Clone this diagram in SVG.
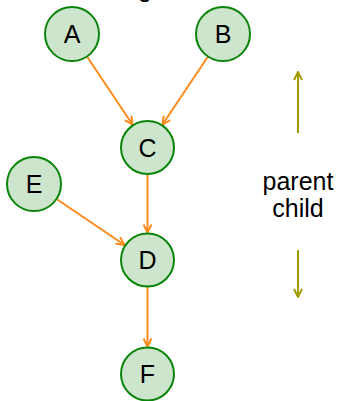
<svg xmlns="http://www.w3.org/2000/svg" width="340" height="401" viewBox="0 0 340 401">
<defs>
<style>
.node circle{fill:#cce5cc;stroke:#0a850a;stroke-width:2}
.node text{font-family:"Liberation Sans",Arial,sans-serif;font-size:25px;fill:#000;text-anchor:middle;dominant-baseline:central}
.edge{stroke:#ff8a1c;stroke-width:2;fill:none;marker-end:url(#ah)}
.dir{stroke:#a39c00;stroke-width:2;fill:none;marker-end:url(#ah2)}
.lbl{font-family:"Liberation Sans",Arial,sans-serif;font-size:25px;fill:#000;text-anchor:middle}
</style>
<marker id="ah" viewBox="0 0 10 10" refX="9" refY="5" markerWidth="10" markerHeight="10" markerUnits="userSpaceOnUse" orient="auto">
<path d="M1,1 L9,5 L1,9" fill="none" stroke="#ff8a1c" stroke-width="2"/>
</marker>
<marker id="ah2" viewBox="0 0 10 10" refX="9" refY="5" markerWidth="10" markerHeight="10" markerUnits="userSpaceOnUse" orient="auto">
<path d="M1,1 L9,5 L1,9" fill="none" stroke="#a39c00" stroke-width="2"/>
</marker>
</defs>
<text class="lbl" x="145" y="-3">g</text>
<g id="connectors">
<line class="edge" x1="87" y1="56.5" x2="132.5" y2="124.5"/>
<line class="edge" x1="208" y1="56.5" x2="162.5" y2="124.5"/>
<line class="edge" x1="147.5" y1="174.5" x2="147.5" y2="232.5"/>
<line class="edge" x1="56.5" y1="199" x2="124.5" y2="245"/>
<line class="edge" x1="147.5" y1="287" x2="147.5" y2="346.5"/>
</g>
<g id="A" class="node"><circle cx="72" cy="34" r="27"/><text x="72" y="34">A</text></g>
<g id="B" class="node"><circle cx="223" cy="34" r="27"/><text x="223" y="34">B</text></g>
<g id="C" class="node"><circle cx="147.5" cy="147.5" r="26.5"/><text x="147.5" y="147.5">C</text></g>
<g id="E" class="node"><circle cx="34" cy="184" r="27"/><text x="34" y="184">E</text></g>
<g id="D" class="node"><circle cx="147.5" cy="260" r="26.5"/><text x="147.5" y="260">D</text></g>
<g id="F" class="node"><circle cx="147.5" cy="374" r="26.5"/><text x="147.5" y="374">F</text></g>
<g id="legend">
<line class="dir" x1="298" y1="133" x2="298" y2="72"/>
<line class="dir" x1="298" y1="250" x2="298" y2="297"/>
<text class="lbl" x="298" y="190">parent</text>
<text class="lbl" x="298" y="217">child</text>
</g>
</svg>
